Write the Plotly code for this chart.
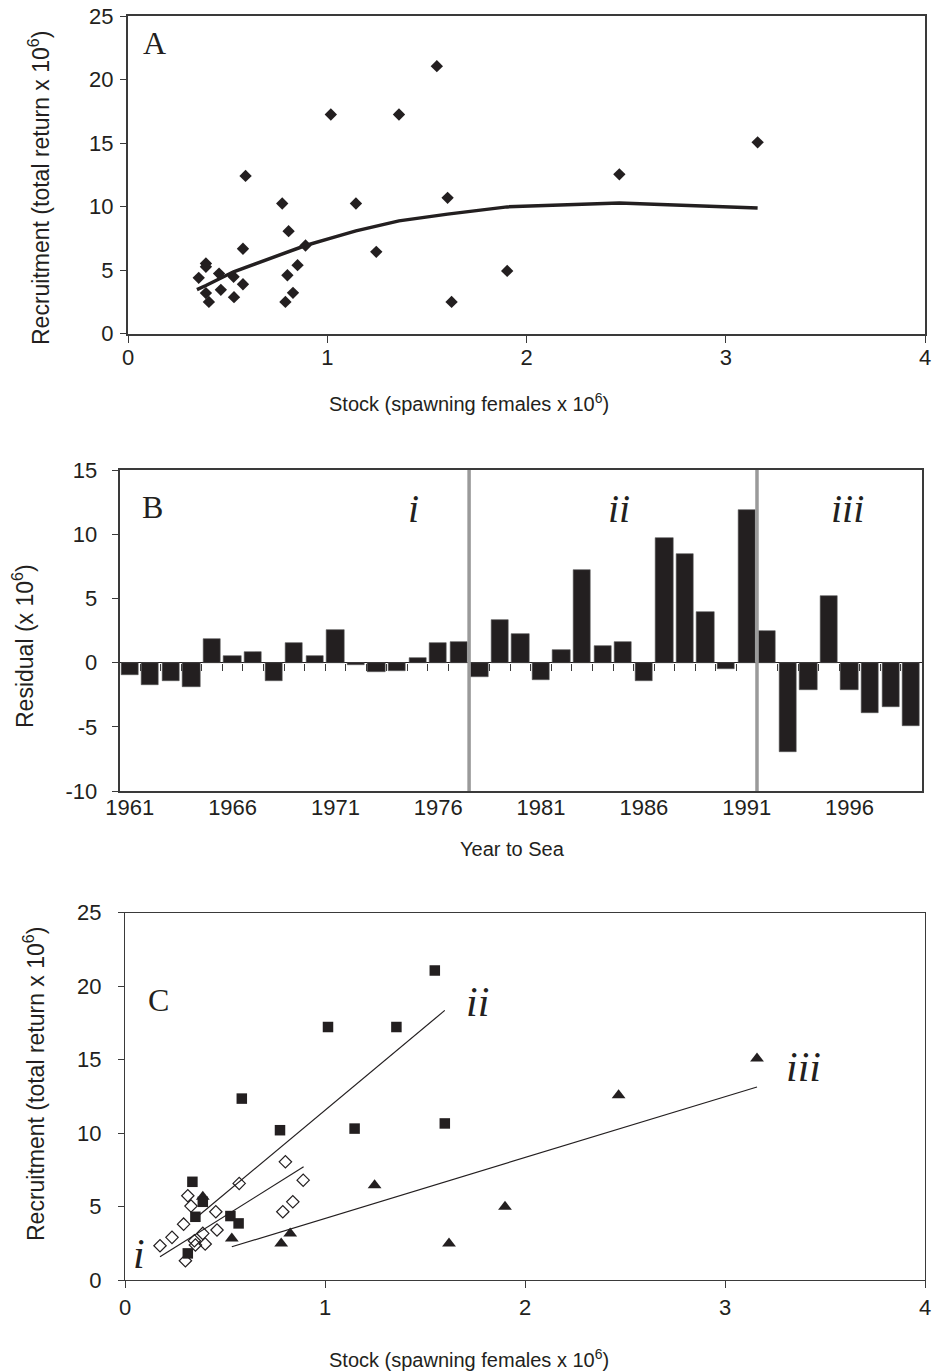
import plotly.graph_objects as go

# ---------------- Panel A: stock vs. recruitment with fitted curve ----------------
a_stock = [1.55, 1.018, 1.36, 0.59, 0.774, 1.144, 1.604, 0.806, 0.577, 1.246,
           0.891, 0.851, 0.391, 0.391, 0.355, 0.457, 0.53, 0.577, 0.466, 0.391,
           0.406, 0.532, 0.80, 0.828, 0.79, 1.903, 1.624, 2.466, 3.16]
a_recruit = [21.05, 17.24, 17.24, 12.41, 10.24, 10.24, 10.68, 8.06, 6.67, 6.43,
             6.93, 5.38, 5.51, 5.25, 4.38, 4.72, 4.46, 3.88, 3.44, 3.18,
             2.49, 2.86, 4.59, 3.2, 2.49, 4.93, 2.49, 12.53, 15.05]
a_fit_stock = [0.346, 0.391, 0.53, 0.79, 0.891, 1.018, 1.144, 1.36, 1.604, 1.903, 2.466, 3.16]
a_fit_recruit = [3.46, 3.78, 4.86, 6.38, 6.93, 7.51, 8.08, 8.87, 9.40, 9.97, 10.28, 9.88]

# ---------------- Panel B: residuals by year to sea ----------------
years = list(range(1961, 2000))
residuals = [-1.0, -1.77, -1.43, -1.9, 1.84, 0.49, 0.83, -1.43, 1.5, 0.49,
             2.55, -0.18, -0.73, -0.62, 0.36, 1.5, 1.64,
             -1.09, 3.32, 2.2, -1.32, 0.96, 7.22, 1.3, 1.64, -1.43,
             9.74, 8.47, 3.92, -0.52, 11.9,
             2.44, -7.0, -2.1, 5.17, -2.1, -3.92, -3.48, -4.96]
year_ticks = [1961, 1966, 1971, 1976, 1981, 1986, 1991, 1996]
residual_ticks = [-10, -5, 0, 5, 10, 15]
residual_tick_text = ["-10", "-5", "0", "5", "10", "15"]
period_breaks = [1977.5, 1991.5]
period_labels = ["i", "ii", "iii"]
period_label_years = [1974.8, 1984.8, 1995.9]

# ---------------- Panel C: stock vs. recruitment by period ----------------
c_i_stock = [0.802, 0.571, 0.891, 0.314, 0.33, 0.839, 0.454, 0.789, 0.293,
             0.46, 0.389, 0.235, 0.175, 0.347, 0.401, 0.352, 0.302]
c_i_recruit = [8.04, 6.57, 6.79, 5.73, 5.03, 5.32, 4.64, 4.64, 3.8,
               3.4, 3.17, 2.9, 2.33, 2.67, 2.45, 2.38, 1.31]
c_ii_stock = [1.549, 1.015, 1.357, 0.584, 0.775, 1.148, 1.599, 0.337, 0.389,
              0.352, 0.527, 0.568, 0.314]
c_ii_recruit = [21.06, 17.21, 17.21, 12.34, 10.19, 10.3, 10.65, 6.68, 5.32,
                4.3, 4.35, 3.85, 1.81]
c_iii_stock = [3.16, 2.468, 1.9, 1.62, 1.248, 0.781, 0.826, 0.534, 0.389]
c_iii_recruit = [15.06, 12.57, 4.98, 2.49, 6.45, 2.49, 3.17, 2.83, 5.66]

c_i_line_stock, c_i_line_recruit = [0.175, 0.893], [1.58, 7.7]
c_ii_line_stock, c_ii_line_recruit = [0.372, 1.599], [4.42, 18.34]
c_iii_line_stock, c_iii_line_recruit = [0.534, 3.16], [2.26, 13.13]

stock_ticks = [0, 1, 2, 3, 4]

INK = "#231f20"
AXIS = "#3a3a3a"
SANS = "Liberation Sans, Arial, sans-serif"
SERIF = "Liberation Serif, Times New Roman, serif"

W, H = 934, 1372
dom_a_x, dom_a_y = [128 / W, 925 / W], [1 - 333.5 / H, 1 - 16 / H]
dom_b_x, dom_b_y = [119.5 / W, 921.5 / W], [1 - 791 / H, 1 - 470 / H]
dom_c_x, dom_c_y = [125 / W, 925 / W], [1 - 1280 / H, 1 - 912.5 / H]

b_range = [-10, 15]
zero_pos = dom_b_y[0] + (dom_b_y[1] - dom_b_y[0]) * (0 - b_range[0]) / (b_range[1] - b_range[0])

fig = go.Figure()

# Panel A
fig.add_trace(go.Scatter(x=a_stock, y=a_recruit, mode="markers",
                         marker=dict(symbol="diamond", size=9.5, color=INK),
                         xaxis="x", yaxis="y", showlegend=False))
fig.add_trace(go.Scatter(x=a_fit_stock, y=a_fit_recruit, mode="lines",
                         line=dict(color=INK, width=3.5),
                         xaxis="x", yaxis="y", showlegend=False))

# Panel B
fig.add_trace(go.Bar(x=years, y=residuals, width=0.84,
                     marker=dict(color=INK, line=dict(color="#555555", width=0.6)),
                     xaxis="x2", yaxis="y2", showlegend=False))
# invisible carrier for the tick axis that sits on the zero line
fig.add_trace(go.Scatter(x=[years[0]], y=[0], mode="markers", marker=dict(opacity=0),
                         xaxis="x4", yaxis="y2", showlegend=False, hoverinfo="skip"))

# Panel C
fig.add_trace(go.Scatter(x=c_i_stock, y=c_i_recruit, mode="markers",
                         marker=dict(symbol="diamond-open", size=9.5, color=INK,
                                     line=dict(width=1.2)),
                         xaxis="x3", yaxis="y3", showlegend=False))
fig.add_trace(go.Scatter(x=c_iii_stock, y=c_iii_recruit, mode="markers",
                         marker=dict(symbol="triangle-up", size=12, color=INK),
                         xaxis="x3", yaxis="y3", showlegend=False))
fig.add_trace(go.Scatter(x=c_ii_stock, y=c_ii_recruit, mode="markers",
                         marker=dict(symbol="square", size=10.5, color=INK),
                         xaxis="x3", yaxis="y3", showlegend=False))
for lx, ly in [(c_i_line_stock, c_i_line_recruit),
               (c_ii_line_stock, c_ii_line_recruit),
               (c_iii_line_stock, c_iii_line_recruit)]:
    fig.add_trace(go.Scatter(x=lx, y=ly, mode="lines", line=dict(color=INK, width=1.2),
                             xaxis="x3", yaxis="y3", showlegend=False))

tickfont = dict(family=SANS, size=22, color=INK)
common = dict(showgrid=False, zeroline=False, showline=True, mirror=True, automargin=False,
              linecolor=AXIS, ticks="outside", tickcolor=AXIS, tickfont=tickfont)

fig.update_layout(
    template="none",
    width=W, height=H, margin=dict(l=0, r=0, t=0, b=0, pad=0, autoexpand=False),
    paper_bgcolor="white", plot_bgcolor="white", bargap=0, showlegend=False,
    xaxis=dict(domain=dom_a_x, range=[0, 4], tickvals=stock_ticks, anchor="y",
               linewidth=2, ticklen=7, ticklabelstandoff=-4, **common),
    yaxis=dict(domain=dom_a_y, range=[0, 25], dtick=5, anchor="x",
               linewidth=2, ticklen=6, ticklabelstandoff=2, **common),
    xaxis2=dict(domain=dom_b_x, range=[1960.5, 1999.5], tickvals=year_ticks, anchor="y2",
                showgrid=False, zeroline=False, showline=True, mirror=True, automargin=False,
                linecolor=AXIS, linewidth=1.8, ticks="", ticklabelstandoff=-4,
                tickfont=tickfont),
    yaxis2=dict(domain=dom_b_y, range=b_range, tickvals=residual_ticks,
                ticktext=residual_tick_text, anchor="x2",
                linewidth=1.8, ticklen=6, ticklabelstandoff=10,
                **{**common, "zeroline": True},
                zerolinecolor=INK, zerolinewidth=1.2),
    xaxis4=dict(overlaying="x2", anchor="free", position=zero_pos,
                range=[1960.5, 1999.5], automargin=False,
                tickvals=[y + 0.5 for y in years[:-1]],
                ticks="outside", ticklen=7, tickcolor=AXIS, tickwidth=1,
                showticklabels=False, showline=False, showgrid=False, zeroline=False),
    xaxis3=dict(domain=dom_c_x, range=[0, 4], tickvals=stock_ticks, anchor="y3",
                linewidth=1.4, ticklen=7, **common),
    yaxis3=dict(domain=dom_c_y, range=[0, 25], dtick=5, anchor="x3",
                linewidth=1.4, ticklen=6, ticklabelstandoff=12, **common),
)

# period boundaries in panel B
for xb in period_breaks:
    fig.add_shape(type="line", xref="x2", yref="y2 domain", x0=xb, x1=xb, y0=0, y1=1,
                  line=dict(color="#9a9a9a", width=3.5), layer="above")

ann = []
# panel letters
for letter, px, py in [("A", 154.5, 43), ("B", 152, 507), ("C", 158, 1000)]:
    ann.append(dict(text=letter, x=px / W, y=1 - py / H, xref="paper", yref="paper",
                    showarrow=False, font=dict(family=SERIF, size=32, color=INK),
                    xanchor="center", yanchor="middle"))
# period numerals in panel B
for lab, yr in zip(period_labels, period_label_years):
    ann.append(dict(text=f"<i>{lab}</i>", x=yr, y=12.0, xref="x2", yref="y2",
                    showarrow=False, font=dict(family=SERIF, size=40, color=INK),
                    xanchor="center", yanchor="middle"))
# period numerals in panel C
for lab, sx, ry in [("i", 0.07, 1.75), ("ii", 1.764, 18.9), ("iii", 3.39, 14.47)]:
    ann.append(dict(text=f"<i>{lab}</i>", x=sx, y=ry, xref="x3", yref="y3",
                    showarrow=False, font=dict(family=SERIF, size=42, color=INK),
                    xanchor="center", yanchor="middle"))

xtitle_font = dict(family=SANS, size=20, color=INK)
ytitle_font = dict(family=SANS, size=23, color=INK)
stock_title = "Stock (spawning females x 10<sup>6</sup>)"
recruit_title = "Recruitment (total return x 10<sup>6</sup>)"
for text, px, py, ang, fnt in [
    (stock_title, 469, 403, 0, xtitle_font),
    (recruit_title, 39, 188, -90, ytitle_font),
    ("Year to Sea", 512, 849, 0, xtitle_font),
    ("Residual (x 10<sup>6</sup>)", 23, 646, -90, ytitle_font),
    (stock_title, 469, 1358, 0, xtitle_font),
    (recruit_title, 34, 1084, -90, ytitle_font),
]:
    ann.append(dict(text=text, x=px / W, y=1 - py / H, xref="paper", yref="paper",
                    showarrow=False, font=fnt, textangle=ang,
                    xanchor="center", yanchor="middle"))

fig.update_layout(annotations=ann)

# page body without the browser's default margin so the figure fills the window
fig.write_html("out.html",
               post_script="document.body.style.margin='0';document.body.style.overflow='hidden';")
